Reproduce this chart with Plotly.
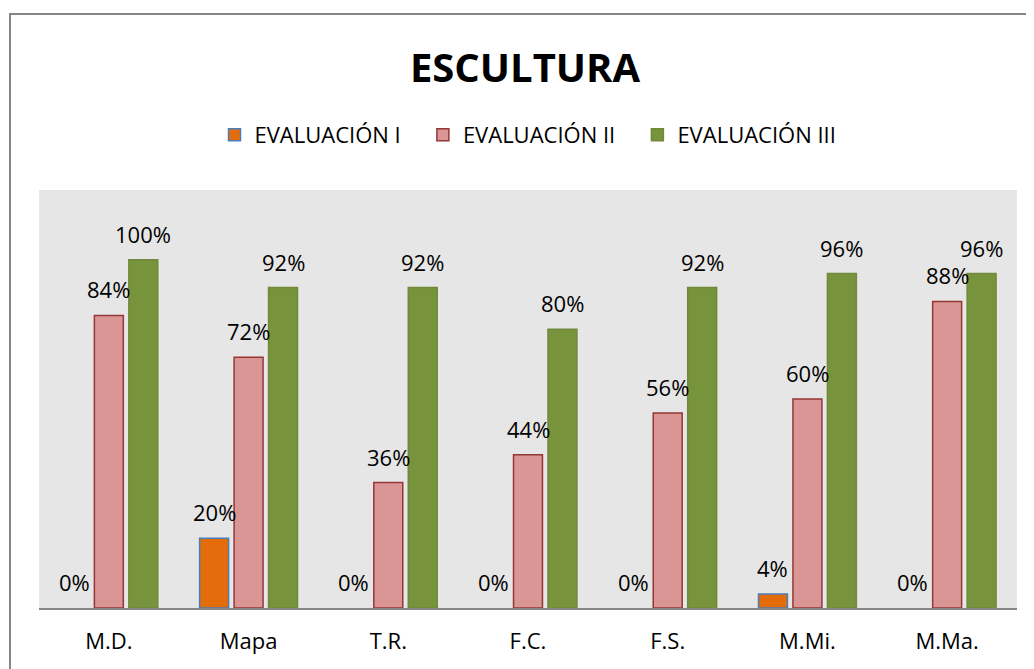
import plotly.graph_objects as go

categories = ["M.D.", "Mapa", "T.R.", "F.C.", "F.S.", "M.Mi.", "M.Ma."]
eval_1 = [0.00, 0.20, 0.00, 0.00, 0.00, 0.04, 0.00]
eval_2 = [0.84, 0.72, 0.36, 0.44, 0.56, 0.60, 0.88]
eval_3 = [1.00, 0.92, 0.92, 0.80, 0.92, 0.96, 0.96]
series_names = ["EVALUACIÓN I", "EVALUACIÓN II", "EVALUACIÓN III"]

FONT = "Open Sans"
fills = ["#E46C0A", "#D99694", "#77933C"]
edges = ["#4A7EBB", "#953735", "#71893A"]
series = [eval_1, eval_2, eval_3]
PAD = "\u00a0\u00a0\u00a0"
legend_labels = [series_names[0] + PAD, series_names[1] + PAD, series_names[2]]

fig = go.Figure()
for name, vals, fc, ec in zip(legend_labels, series, fills, edges):
    fig.add_trace(go.Bar(
        x=categories, y=[v if v > 0 else None for v in vals], name=name,
        marker=dict(color=fc, line=dict(color=ec, width=1.5)),
    ))

# page offset of the figure (default body margin)
OFF = 8
W, H = 1034, 669
# screen-pixel positions of the plot area
left_px, right_px, top_px, bottom_px = 39, 1017, 190, 608
ml = left_px - OFF
mr = (W + OFF) - right_px
mt = top_px - OFF
mb = (H + OFF) - bottom_px
plot_w = right_px - left_px
plot_h = bottom_px - top_px
cat_w = plot_w / len(categories)
bargap = 0.26
slot = cat_w * (1 - bargap) / 3
offsets = [-slot, 0, slot]
annotations = []
for vals, off in zip(series, offsets):
    for c, v in zip(categories, vals):
        annotations.append(dict(
            x=c, y=v, xref="x", yref="y", text=f"{round(v*100)}%",
            showarrow=False, xshift=off, yshift=26, yanchor="middle",
            font=dict(family=FONT, size=22, color="#000000"),
        ))

def px_to_paper_x(p):
    return (p - left_px) / plot_w
def px_to_paper_y(p):
    return (bottom_px - p) / plot_h

fig.update_layout(
    width=W, height=H,
    margin=dict(l=ml, r=mr, t=mt, b=mb),
    paper_bgcolor="white",
    plot_bgcolor="#E6E6E6",
    barmode="group", bargap=bargap, bargroupgap=0.16,
    title=dict(text="<b>ESCULTURA</b>", x=0.5, xanchor="center",
               y=1 - (68 - OFF) / H, yanchor="middle", yref="container",
               font=dict(family=FONT, size=40, color="#000000")),
    legend=dict(orientation="h", x=0.5, xanchor="center",
                y=px_to_paper_y(135), yanchor="middle",
                font=dict(family=FONT, size=22, color="#000000"),
                itemwidth=30, traceorder="normal"),
    showlegend=True,
    annotations=annotations,
    xaxis=dict(showgrid=False, showline=True, linecolor="#868686", linewidth=2,
               ticks="", tickfont=dict(family=FONT, size=22, color="#000000"),
               ticklabelstandoff=13, zeroline=False),
    yaxis=dict(range=[0, 1.2], visible=False, showgrid=False, zeroline=False),
    shapes=[dict(type="rect", xref="paper", yref="paper",
                 x0=px_to_paper_x(10), x1=px_to_paper_x(1060),
                 y0=px_to_paper_y(700), y1=px_to_paper_y(14),
                 line=dict(color="#868686", width=2), fillcolor="rgba(0,0,0,0)",
                 layer="above")],
)

fig.write_html("out.html")
